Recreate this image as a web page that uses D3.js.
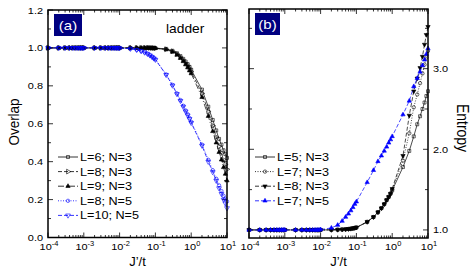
<!DOCTYPE html>
<html>
<head>
<meta charset="utf-8">
<script src="https://cdn.jsdelivr.net/npm/d3@7"></script>
<style>
  body { margin: 0; background: #fff; }
  svg { display: block; font-family: "Liberation Sans", Arial, sans-serif; }
</style>
</head>
<body>
<svg id="chart" width="476" height="273"></svg>
<script>
// J'/t grid (1..9 x 10^k)
const jGrid = [
  1e-4, 2e-4, 3e-4, 4e-4, 5e-4, 6e-4, 7e-4, 8e-4, 9e-4,
  1e-3, 2e-3, 3e-3, 4e-3, 5e-3, 6e-3, 7e-3, 8e-3, 9e-3,
  0.01, 0.02, 0.03, 0.04, 0.05, 0.06, 0.07, 0.08, 0.09,
  0.1, 0.2, 0.3, 0.4, 0.5, 0.6, 0.7, 0.8, 0.9,
  1, 2, 3, 4, 5, 6, 7, 8, 9,
  10
];

// panel (a): overlap
const ovL6N3 = [
  1, 1, 1, 1, 1, 1, 1, 1, 1,
  1, 1, 1, 1, 1, 1, 1, 1, 1,
  1, 1, 1, 1, 1, 1, 1, 1, 0.999,
  0.999, 0.995, 0.985, 0.972, 0.957, 0.942, 0.928, 0.914, 0.9,
  0.885, 0.78, 0.69, 0.62, 0.565, 0.52, 0.49, 0.46, 0.44,
  0.42
];
const ovL8N3 = [
  1, 1, 1, 1, 1, 1, 1, 1, 1,
  1, 1, 1, 1, 1, 1, 1, 1, 1,
  1, 1, 1, 1, 1, 1, 1, 0.999, 0.999,
  0.998, 0.993, 0.982, 0.968, 0.952, 0.936, 0.92, 0.905, 0.89,
  0.875, 0.76, 0.665, 0.59, 0.53, 0.48, 0.445, 0.41, 0.385,
  0.36
];
const ovL9N3 = [
  1, 1, 1, 1, 1, 1, 1, 1, 1,
  1, 1, 1, 1, 1, 1, 1, 1, 1,
  1, 1, 1, 1, 1, 1, 0.999, 0.999, 0.998,
  0.998, 0.991, 0.979, 0.963, 0.946, 0.929, 0.912, 0.896, 0.88,
  0.865, 0.74, 0.64, 0.56, 0.5, 0.45, 0.41, 0.37, 0.335,
  0.3
];
const ovL8N5 = [
  1, 1, 1, 1, 1, 1, 1, 1, 1,
  1, 1, 1, 1, 1, 1, 1, 1, 1,
  0.999, 0.996, 0.99, 0.984, 0.977, 0.97, 0.962, 0.955, 0.947,
  0.94, 0.86, 0.805, 0.76, 0.725, 0.695, 0.67, 0.65, 0.63,
  0.61, 0.49, 0.41, 0.355, 0.31, 0.275, 0.245, 0.22, 0.205,
  0.19
];
const ovL10N5 = [
  1, 1, 1, 1, 1, 1, 1, 1, 1,
  1, 1, 1, 1, 1, 1, 1, 1, 1,
  0.999, 0.996, 0.99, 0.983, 0.976, 0.969, 0.961, 0.953, 0.945,
  0.938, 0.858, 0.802, 0.757, 0.721, 0.69, 0.665, 0.644, 0.625,
  0.605, 0.485, 0.4, 0.345, 0.3, 0.26, 0.23, 0.2, 0.18,
  0.155
];

// panel (b): entropy
const enL5N3 = [
  1, 1, 1, 1, 1, 1, 1, 1, 1,
  1, 1, 1, 1, 1, 1, 1, 1, 1,
  1, 1.001, 1.003, 1.006, 1.009, 1.012, 1.016, 1.02, 1.025,
  1.03, 1.1, 1.16, 1.22, 1.27, 1.32, 1.37, 1.41, 1.45,
  1.49, 1.78, 1.98, 2.16, 2.31, 2.41, 2.5, 2.58, 2.66,
  2.72
];
const enL7N3 = [
  1, 1, 1, 1, 1, 1, 1, 1, 1,
  1, 1, 1, 1, 1, 1, 1, 1, 1,
  1, 1.001, 1.003, 1.006, 1.009, 1.012, 1.016, 1.02, 1.025,
  1.03, 1.1, 1.16, 1.22, 1.27, 1.32, 1.37, 1.41, 1.45,
  1.5, 1.86, 2.2, 2.52, 2.68, 2.82, 2.94, 3.05, 3.14,
  3.22
];
const enL8N3 = [
  1, 1, 1, 1, 1, 1, 1, 1, 1,
  1, 1, 1, 1, 1, 1, 1, 1, 1,
  1, 1.001, 1.003, 1.006, 1.009, 1.012, 1.016, 1.02, 1.025,
  1.03, 1.1, 1.16, 1.22, 1.27, 1.32, 1.37, 1.41, 1.45,
  1.51, 1.92, 2.42, 2.72, 2.88, 3.01, 3.15, 3.3, 3.42,
  3.52
];
const enL7N5 = [
  1, 1, 1, 1, 1, 1, 1, 1, 1,
  1, 1, 1, 1, 1, 1, 1, 1, 1,
  1.005, 1.025, 1.06, 1.11, 1.16, 1.2, 1.24, 1.28, 1.32,
  1.35, 1.59, 1.74, 1.85, 1.92, 1.98, 2.03, 2.08, 2.12,
  2.16, 2.43, 2.6, 2.78, 2.88, 2.96, 3.04, 3.11, 3.18,
  3.25
];

const xTickExps = [-4, -3, -2, -1, 0, 1];
const ovTicks = [0, 0.2, 0.4, 0.6, 0.8, 1.0, 1.2];
const ovMinor = [0.1, 0.3, 0.5, 0.7, 0.9, 1.1];
const enTicks = [1, 2, 3];
const enMinor = [1.5, 2.5, 3.5];

const seriesA = [
  { name: "L=6; N=3", y: ovL6N3, color: "#000", dash: null, marker: "square", fill: false },
  { name: "L=8; N=3", y: ovL8N3, color: "#000", dash: "4,2", marker: "triRight", fill: false },
  { name: "L=9; N=3", y: ovL9N3, color: "#000", dash: "6,2,1,2", marker: "triUp", fill: true },
  { name: "L=8; N=5", y: ovL8N5, color: "#0000ff", dash: "1,1.5", marker: "circle", fill: false },
  { name: "L=10; N=5", y: ovL10N5, color: "#0000ff", dash: "4,2", marker: "triDown", fill: false }
];
const seriesB = [
  { name: "L=5; N=3", y: enL5N3, color: "#000", dash: null, marker: "square", fill: false },
  { name: "L=7; N=3", y: enL7N3, color: "#000", dash: "1,1.5", marker: "circle", fill: false },
  { name: "L=8; N=3", y: enL8N3, color: "#000", dash: "4,2", marker: "triDown", fill: true },
  { name: "L=7; N=5", y: enL7N5, color: "#0000ff", dash: "4,2", marker: "triUp", fill: true }
];

const SX = 1.15; // horizontal stretch of the original lettering
const svg = d3.select("#chart");

function label(g, x, y, str, size, anchor, color) {
  return g.append("text")
    .attr("transform", `translate(${x},${y}) scale(${SX},1)`)
    .attr("font-size", size)
    .attr("text-anchor", anchor || "start")
    .attr("fill", color || "#000")
    .text(str);
}

function marker(g, type, x, y, color, filled) {
  let sym = d3.symbolTriangle, rot = 0, size = filled ? 8 : 10;
  if (type === "square") { sym = d3.symbolSquare; size = 9; }
  if (type === "circle") { sym = d3.symbolCircle; size = 9; }
  if (type === "triDown") rot = 180;
  if (type === "triRight") rot = 90;
  g.append("path")
    .attr("d", d3.symbol().type(sym).size(size)())
    .attr("transform", `translate(${x},${y}) rotate(${rot})`)
    .attr("fill", filled ? color : "none")
    .attr("stroke", color)
    .attr("stroke-width", 0.6);
}

function panel(cfg) {
  const { x0, x1, y0, y1, yDomain, series, yTicks, yMinor, leftLabels } = cfg;
  const x = d3.scaleLog().domain([1e-4, 10]).range([x0, x1]);
  const y = d3.scaleLinear().domain(yDomain).range([y1, y0]);
  const g = svg.append("g");

  // ticks (inward, all four sides)
  const tk = g.append("g").attr("stroke", "#000").attr("stroke-width", 0.8);
  xTickExps.forEach((e, i) => {
    const v = Math.pow(10, e);
    tk.append("line").attr("x1", x(v)).attr("x2", x(v)).attr("y1", y1).attr("y2", y1 - 5);
    tk.append("line").attr("x1", x(v)).attr("x2", x(v)).attr("y1", y0).attr("y2", y0 + 5);
    if (i < xTickExps.length - 1) {
      for (let m = 2; m <= 9; m++) {
        const mv = m * v;
        tk.append("line").attr("x1", x(mv)).attr("x2", x(mv)).attr("y1", y1).attr("y2", y1 - 2.5);
        tk.append("line").attr("x1", x(mv)).attr("x2", x(mv)).attr("y1", y0).attr("y2", y0 + 2.5);
      }
    }
    const t = g.append("text")
      .attr("transform", `translate(${x(v) + 1},250) scale(${SX},1)`)
      .attr("font-size", 9.5)
      .attr("text-anchor", "middle");
    t.append("tspan").text("10");
    t.append("tspan").attr("font-size", 6.5).attr("dy", -4).text(e);
  });
  yTicks.forEach(v => {
    tk.append("line").attr("x1", x0).attr("x2", x0 + 5).attr("y1", y(v)).attr("y2", y(v));
    tk.append("line").attr("x1", x1).attr("x2", x1 - 5).attr("y1", y(v)).attr("y2", y(v));
    if (leftLabels) label(g, x0 - 5, y(v) + 3.5, v.toFixed(1), 9.5, "end");
    else label(g, x1 + 5, y(v) + 3.5, v.toFixed(1), 9.5, "start");
  });
  yMinor.forEach(v => {
    tk.append("line").attr("x1", x0).attr("x2", x0 + 3).attr("y1", y(v)).attr("y2", y(v));
    tk.append("line").attr("x1", x1).attr("x2", x1 - 3).attr("y1", y(v)).attr("y2", y(v));
  });

  // curves
  const line = d3.line().x(d => x(d[0])).y(d => y(d[1]));
  series.forEach(s => {
    const pts = jGrid.map((j, i) => [j, s.y[i]]);
    g.append("path")
      .attr("d", line(pts))
      .attr("fill", "none")
      .attr("stroke", s.color)
      .attr("stroke-width", 0.7)
      .attr("stroke-dasharray", s.dash);
    const mg = g.append("g");
    pts.forEach(p => marker(mg, s.marker, x(p[0]), y(p[1]), s.color, s.fill));
  });

  // frame
  g.append("rect")
    .attr("x", x0).attr("y", y0)
    .attr("width", x1 - x0).attr("height", y1 - y0)
    .attr("fill", "none").attr("stroke", "#000").attr("stroke-width", 1.5);

  // x title
  g.append("text")
    .attr("x", (x0 + x1) / 2).attr("y", 266)
    .attr("font-size", 13).attr("text-anchor", "middle")
    .text("J\u2019/t");

  // legend
  const lg = g.append("g");
  series.forEach((s, i) => {
    const ly = cfg.legY + i * 14.6;
    lg.append("line")
      .attr("x1", cfg.legX).attr("x2", cfg.legX + 20)
      .attr("y1", ly).attr("y2", ly)
      .attr("stroke", s.color).attr("stroke-width", 0.8)
      .attr("stroke-dasharray", s.dash);
    marker(lg, s.marker, cfg.legX + 10, ly, s.color, s.fill);
    label(lg, cfg.legX + 22, ly + 4, s.name, 11, "start");
  });

  // panel tag
  g.append("rect")
    .attr("x", cfg.tag[0]).attr("y", cfg.tag[1])
    .attr("width", cfg.tag[2]).attr("height", 22)
    .attr("fill", "#000080");
  label(g, cfg.tag[0] + cfg.tag[2] / 2, cfg.tag[1] + 16, cfg.tagText, 13, "middle", "#fff");

  return g;
}

panel({
  x0: 48, x1: 227, y0: 10, y1: 237.5, yDomain: [0, 1.2],
  series: seriesA, yTicks: ovTicks, yMinor: ovMinor, leftLabels: true,
  legX: 58, legY: 157, tag: [54, 14, 28], tagText: "(a)"
});
panel({
  x0: 249, x1: 428, y0: 9, y1: 238, yDomain: [0.9, 3.74],
  series: seriesB, yTicks: enTicks, yMinor: enMinor, leftLabels: false,
  legX: 255, legY: 157, tag: [255, 13, 25], tagText: "(b)"
});

label(svg, 166, 33, "ladder", 12, "start");

svg.append("text")
  .attr("transform", "translate(19,122) rotate(-90) scale(1,1.15)")
  .attr("font-size", 13.5).attr("text-anchor", "middle")
  .text("Overlap");
svg.append("text")
  .attr("transform", "translate(457,128) rotate(90) scale(1,1.15)")
  .attr("font-size", 14).attr("text-anchor", "middle")
  .text("Entropy");
</script>
</body>
</html>
